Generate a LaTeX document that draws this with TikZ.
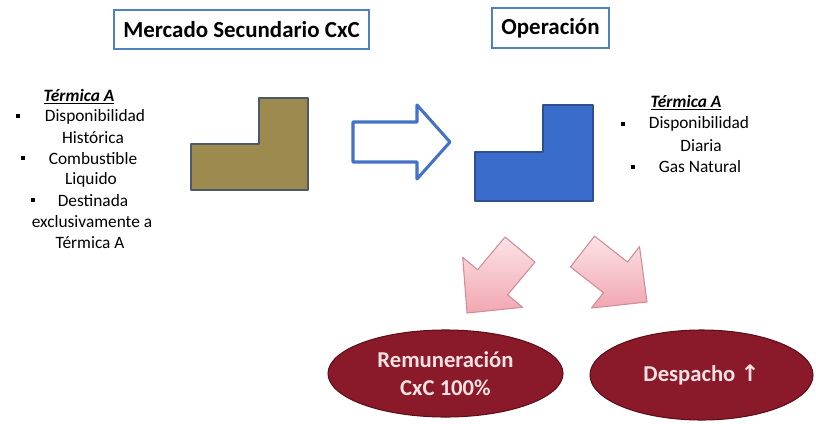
\documentclass[tikz,border=0pt]{standalone}
\usepackage{fontspec}
\setmainfont{Carlito}
\newfontfamily\djv{DejaVu Sans}
\usetikzlibrary{shapes.geometric}
\definecolor{boxblue}{HTML}{4F81BD}
\definecolor{arrblue}{HTML}{4472C4}
\definecolor{lblue}{HTML}{3A6CCB}
\definecolor{lblueedge}{HTML}{2F4F8F}
\definecolor{olive}{HTML}{9C8A4E}
\definecolor{oliveedge}{HTML}{4E5866}
\definecolor{pinkfill}{HTML}{F2A7B2}
\definecolor{pinklight}{HTML}{FBE3E6}
\definecolor{pinkedge}{HTML}{D08C98}
\definecolor{wine}{HTML}{8A1A2A}
\definecolor{wineedge}{HTML}{5E0E1A}
\definecolor{wtext}{HTML}{F6E2E2}
\tikzset{
  titlebox/.style={draw=boxblue, line width=0.9pt, inner sep=0pt, font=\fontsize{17.2}{20}\selectfont\bfseries},
  listtxt/.style={inner sep=0pt, font=\fontsize{13}{15}\selectfont},
  listhead/.style={inner sep=0pt, font=\fontsize{13}{15}\selectfont\bfseries\itshape},
  bulletsq/.style={fill=black, minimum size=3.2pt, inner sep=0pt},
  oval/.style={ellipse, fill=wine, draw=wineedge, line width=0.8pt, inner sep=0pt, text=wtext, align=center, font=\fontsize{17}{20.5}\selectfont\bfseries},
  pinkarrow/.style={draw=pinkedge, line width=0.8pt, line join=round, top color=pinklight, bottom color=pinkfill},
  lshape/.style={line width=0.9pt, line join=round}
}
\begin{document}
\begin{tikzpicture}[x=0.75pt,y=-0.75pt]
\useasboundingbox (0,0) rectangle (816,424);
% title boxes
\node[titlebox, minimum width=191.25pt, minimum height=29.25pt] (mercado) at (241.5,29.5) {Mercado Secundario CxC};
\node[titlebox, minimum width=87.75pt, minimum height=30pt] (operacion) at (550.5,28) {Operación};
% left list
\node[listhead] (lh) at (79,97) {\underline{Térmica A}};
\node[bulletsq] (lb1) at (18,116) {};
\node[listtxt] (l1) at (95,117) {Disponibilidad};
\node[listtxt] (l2) at (93,138) {Histórica};
\node[bulletsq] (lb2) at (23,158) {};
\node[listtxt] (l3) at (93,159) {Combustible};
\node[listtxt] (l4) at (91,180) {Liquido};
\node[bulletsq] (lb3) at (33,200) {};
\node[listtxt] (l5) at (93,201) {Destinada};
\node[listtxt] (l6) at (92,222) {exclusivamente a};
\node[listtxt] (l7) at (90,243) {Térmica A};
% right list
\node[listhead] (rh) at (686,103) {\underline{Térmica A}};
\node[bulletsq] (rb1) at (623,124) {};
\node[listtxt] (r1) at (699,124) {Disponibilidad};
\node[listtxt] (r2) at (701,146) {Diaria};
\node[bulletsq] (rb2) at (633,167) {};
\node[listtxt] (r3) at (700,167) {Gas Natural};
% olive L shape
\draw[lshape, fill=olive, draw=oliveedge] (191,144) -- (259,144) -- (259,98) -- (308,98) -- (308,190) -- (191,190) -- cycle;
% blue hollow arrow
\draw[draw=arrblue, line width=2.3pt, line join=round, fill=white] (353,122) -- (417,122) -- (417,105) -- (450,142) -- (417,179) -- (417,162) -- (353,162) -- cycle;
% blue L shape
\draw[lshape, fill=lblue, draw=lblueedge] (475,152) -- (543,152) -- (543,105) -- (593,105) -- (593,201) -- (475,201) -- cycle;
% pink arrows
\draw[pinkarrow] (467,313) -- (522.6,307.3) -- (507.6,294.8) -- (535,262) -- (505,237) -- (477.6,269.8) -- (462.7,257.3) -- cycle;
\draw[pinkarrow] (647,302) -- (639.5,246.6) -- (627.5,262.0) -- (594.5,236.1) -- (570.5,266.9) -- (603.5,292.7) -- (591.5,308.0) -- cycle;
% ovals
\node[oval, minimum width=176.25pt, minimum height=65.25pt] (remu) at (445.5,373.5) {Remuneración\\CxC 100\%};
\node[oval, minimum width=167.25pt, minimum height=67.5pt] (desp) at (701.5,375) {Despacho {\djv\bfseries ↑}};
\end{tikzpicture}
\end{document}
